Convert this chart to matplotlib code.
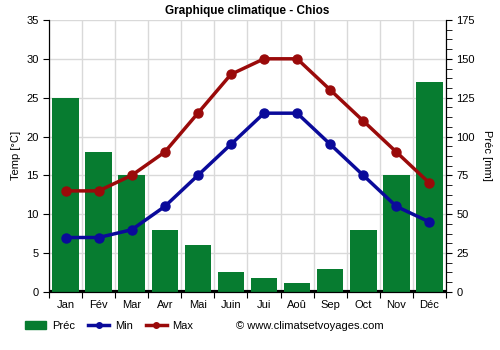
import matplotlib
matplotlib.use("Agg")
import matplotlib.pyplot as plt
from matplotlib.ticker import MultipleLocator, AutoMinorLocator, FixedLocator
from matplotlib.patches import Patch
from matplotlib.lines import Line2D

months = ["Jan", "Fév", "Mar", "Avr", "Mai", "Juin", "Jui", "Aoû", "Sep", "Oct", "Nov", "Déc"]
prec = [125, 90, 75, 40, 30, 12.5, 9, 6, 15, 40, 75, 135]
tmin = [7, 7, 8, 11, 15, 19, 23, 23, 19, 15, 11, 9]
tmax = [13, 13, 15, 18, 23, 28, 30, 30, 26, 22, 18, 14]

GREEN = "#077c30"
BLUE = "#0a0a9a"
RED = "#9a0a0a"
GRID = "#d9d9d9"

plt.rcParams["font.family"] = ["Liberation Sans", "DejaVu Sans"]

fig = plt.figure(figsize=(5, 3.5), dpi=100)
ax2 = fig.add_axes([0.098, 0.166, 0.794, 0.777])
ax = ax2.twinx()
ax2.yaxis.tick_right()
ax2.yaxis.set_label_position("right")
ax.yaxis.tick_left()
ax.yaxis.set_label_position("left")

x = list(range(len(months)))

# precipitation bars
ax2.axhline(0, color="black", lw=3, zorder=1)
ax2.bar(x, prec, width=0.8, color=GREEN, zorder=2)
ax2.set_ylim(0, 175)
ax2.yaxis.set_major_locator(MultipleLocator(25))
ax2.yaxis.set_minor_locator(AutoMinorLocator(4))
ax2.set_ylabel("Préc [mm]", fontsize=8, rotation=270, labelpad=12)
ax2.set_xlim(-0.5, 11.5)
ax2.xaxis.set_major_locator(FixedLocator([i + 0.5 for i in range(-1, 12)]))
ax2.xaxis.set_minor_locator(FixedLocator(x))
ax2.set_xticklabels([], minor=False)
ax2.set_xticklabels(months, minor=True, fontsize=8)
ax2.tick_params(axis="x", which="minor", length=0, pad=6)
ax2.tick_params(axis="x", which="major", length=4, color="black")
ax2.tick_params(axis="y", which="major", labelsize=8, length=4)
ax2.tick_params(axis="y", which="minor", length=4)
ax2.grid(True, which="major", axis="both", color=GRID, lw=1, zorder=0)
ax2.set_axisbelow(True)

# temperature lines
ax.plot(x, tmin, color=BLUE, lw=2.5, marker="o", ms=6.5, zorder=3)
ax.plot(x, tmax, color=RED, lw=2.5, marker="o", ms=6.5, zorder=3)
ax.set_ylim(0, 35)
ax.yaxis.set_major_locator(MultipleLocator(5))
ax.set_ylabel("Temp [°C]", fontsize=8)
ax.tick_params(axis="y", labelsize=8, length=4)

for a in (ax, ax2):
    a.spines["top"].set_visible(False)

ax.set_title("Graphique climatique - Chios", fontsize=8.5, fontweight="bold", pad=4)

handles = [
    Patch(facecolor=GREEN, edgecolor=GREEN),
    Line2D([0], [0], color=BLUE, lw=2.5, marker="o", ms=4),
    Line2D([0], [0], color=RED, lw=2.5, marker="o", ms=4),
]
fig.legend(handles, ["Préc", "Min", "Max"], loc="center left", bbox_to_anchor=(0.05, 0.068),
           ncol=3, frameon=False, fontsize=8, handlelength=1.9, columnspacing=1.2,
           handletextpad=0.5, borderpad=0, borderaxespad=0)
fig.text(0.472, 0.068, "© www.climatsetvoyages.com", fontsize=8, va="center", ha="left")

fig.savefig("out.png", dpi=100)
